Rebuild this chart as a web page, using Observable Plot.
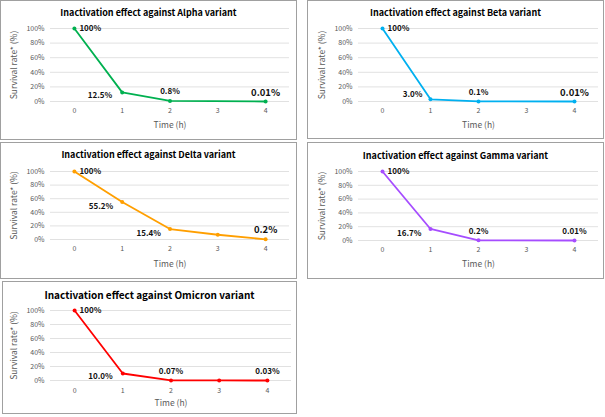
<!DOCTYPE html>
<html><head><meta charset="utf-8">
<script src="https://cdn.jsdelivr.net/npm/d3@7"></script>
<script src="https://cdn.jsdelivr.net/npm/@observablehq/plot@0.6"></script>
<style>
body{margin:0;background:#fff;width:605px;height:417px;position:relative;overflow:hidden;font-family:"Noto Sans CJK JP","Noto Sans",sans-serif}
.panel{position:absolute;box-sizing:border-box;border:1px solid #a0a0a0;background:#fff}
.title{position:absolute;left:0;right:0;text-align:center;font-weight:bold;color:#000;white-space:nowrap;line-height:1}
.panel svg{position:absolute;left:0;top:0;overflow:visible}
</style></head><body>
<script>
// ---- data ----
const hours = [0, 1, 2, 3, 4];
const variants = ["Alpha", "Beta", "Delta", "Gamma", "Omicron"];
const alphaValues   = [100, 12.5, 0.8, null, 0.01];
const alphaLabels   = ["100%", "12.5%", "0.8%", null, "0.01%"];
const betaValues    = [100, 3.0, 0.1, null, 0.01];
const betaLabels    = ["100%", "3.0%", "0.1%", null, "0.01%"];
const deltaValues   = [100, 55.2, 15.4, 7, 0.2];
const deltaLabels   = ["100%", "55.2%", "15.4%", null, "0.2%"];
const gammaValues   = [100, 16.7, 0.2, null, 0.01];
const gammaLabels   = ["100%", "16.7%", "0.2%", null, "0.01%"];
const omicronValues = [100, 10.0, 0.07, 0.05, 0.03];
const omicronLabels = ["100%", "10.0%", "0.07%", null, "0.03%"];
const yTicks = [0, 20, 40, 60, 80, 100];
const xTicks = [0, 1, 2, 3, 4];
const yTitle = "Survival rate* (%)";
const xTitle = "Time (h)";

// ---- layout / style (not data) ----
const panels = [
  {name: "Alpha", values: alphaValues, labels: alphaLabels, color: "#00B050",
   left: 0, top: 0, w: 297, h: 140, ml: 49, mr: 7, mt: 27, mb: 38, titleY: 7, titleSize: 9,
   tickPad: 7, xTitleDy: 24,
   place: ["right", "left", "above", null, "above"], big: [false, false, false, false, true]},
  {name: "Beta", values: betaValues, labels: betaLabels, color: "#00B0F0",
   left: 307, top: 0, w: 297, h: 139, ml: 50, mr: 5, mt: 27, mb: 37, titleY: 7, titleSize: 9,
   tickPad: 7, xTitleDy: 24,
   place: ["right", "leftup", "above", null, "above"], big: [false, false, false, false, true]},
  {name: "Delta", values: deltaValues, labels: deltaLabels, color: "#FF9F00",
   left: 0, top: 142, w: 297, h: 137, ml: 49, mr: 7, mt: 28, mb: 39, titleY: 7, titleSize: 9,
   tickPad: 7, xTitleDy: 25,
   place: ["right", "leftdown", "leftdown", null, "above"], big: [false, false, false, false, true]},
  {name: "Gamma", values: gammaValues, labels: gammaLabels, color: "#A64DFF",
   left: 307, top: 142, w: 297, h: 137, ml: 50, mr: 5, mt: 28, mb: 38, titleY: 8, titleSize: 9,
   tickPad: 7, xTitleDy: 24,
   place: ["right", "leftdown", "above", null, "above"], big: [false, false, false, false, false]},
  {name: "Omicron", values: omicronValues, labels: omicronLabels, color: "#FF0000",
   left: 2, top: 281, w: 295, h: 133, ml: 47, mr: 5, mt: 28, mb: 33, titleY: 8, titleSize: 10,
   tickPad: 8, xTitleDy: 23,
   place: ["right", "left", "above", null, "above"], big: [false, false, false, false, false]}
];

const placeOpts = {
  right:    {textAnchor: "start",  dx: 5,  dy: 0},
  left:     {textAnchor: "end",    dx: -10, dy: 3},
  leftup:   {textAnchor: "end",    dx: -8, dy: -5},
  leftdown: {textAnchor: "end",    dx: -9, dy: 4},
  above:    {textAnchor: "middle", dx: 0,  dy: -9}
};

for (const p of panels) {
  const div = document.createElement("div");
  div.className = "panel";
  Object.assign(div.style, {left: p.left + "px", top: p.top + "px", width: p.w + "px", height: p.h + "px"});
  const rows = hours.map((h, i) => ({hour: h, value: p.values[i], label: p.labels[i], place: p.place[i], big: p.big[i]}))
                    .filter(d => d.value != null);
  const labelMarks = Object.entries(placeOpts).map(([k, o]) =>
    Plot.text(rows.filter(d => d.place === k && d.label), {
      x: "hour", y: "value", text: "label",
      textAnchor: o.textAnchor, dx: o.dx, dy: o.dy,
      fontSize: d => d.big ? 9.5 : 8, fontWeight: "bold", fill: "#111"
    }));
  const svg = Plot.plot({
    width: p.w - 2, height: p.h - 2,
    marginLeft: p.ml, marginRight: p.mr, marginTop: p.mt, marginBottom: p.mb,
    style: {fontFamily: '"Noto Sans CJK JP","Noto Sans",sans-serif', background: "transparent", overflow: "visible"},
    x: {domain: [-0.5, 4.5]},
    y: {domain: [0, 100]},
    marks: [
      Plot.gridY(yTicks, {stroke: "#d9d9d9", strokeOpacity: 1, strokeWidth: 0.8}),
      Plot.axisY(yTicks, {tickSize: 0, tickPadding: 6, tickFormat: d => d + "%", fontSize: 7, color: "#595959", label: null}),
      Plot.axisX(xTicks, {tickSize: 0, tickPadding: p.tickPad, fontSize: 7, color: "#595959", label: null}),
      Plot.text([yTitle], {frameAnchor: "left", rotate: -90, dx: -36, textAnchor: "middle", lineAnchor: "middle", fontSize: 8.5, fill: "#595959"}),
      Plot.text([xTitle], {frameAnchor: "bottom", dy: p.xTitleDy, textAnchor: "middle", lineAnchor: "middle", fontSize: 8.5, fill: "#595959"}),
      Plot.line(rows, {x: "hour", y: "value", stroke: p.color, strokeWidth: 1.8}),
      Plot.dot(rows, {x: "hour", y: "value", fill: p.color, r: 2}),
      ...labelMarks
    ]
  });
  div.appendChild(svg);
  const title = document.createElement("div");
  title.className = "title";
  title.style.top = p.titleY + "px";
  title.style.fontSize = p.titleSize + "px";
  title.textContent = `Inactivation effect against ${p.name} variant`;
  div.appendChild(title);
  document.body.appendChild(div);
}
</script>
</body></html>
